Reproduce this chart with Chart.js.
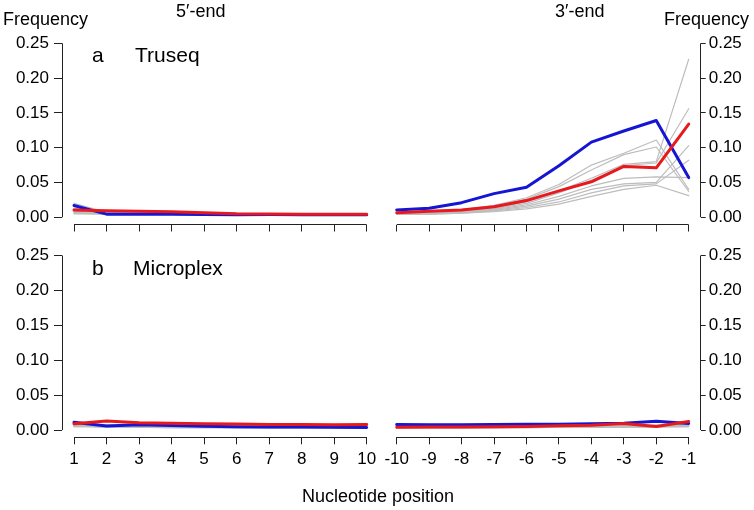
<!DOCTYPE html>
<html lang="en">
<head>
    <meta charset="UTF-8">
    <title>Nucleotide position frequency</title>
    <script src="https://cdn.jsdelivr.net/npm/chart.js"></script>
    <style>
        body {
            margin: 0;
            padding: 0;
            background: #fff;
            font-family: "Liberation Sans", Arial, sans-serif;
        }
        #wrap {
            position: relative;
            width: 754px;
            height: 510px;
            overflow: hidden;
        }
        #wrap canvas {
            position: absolute;
            left: 0;
            top: 0;
        }
        .lbl {
            position: absolute;
            white-space: nowrap;
            color: #000;
            line-height: 1;
        }
    </style>
</head>
<body>
<div id="wrap">
    <canvas id="p1" width="754" height="510"></canvas>
    <canvas id="p2" width="754" height="510"></canvas>
    <canvas id="p3" width="754" height="510"></canvas>
    <canvas id="p4" width="754" height="510"></canvas>

    <div class="lbl" style="left:3px; top:10px; font-size:18px;">Frequency</div>
    <div class="lbl" style="left:176px; top:2px; font-size:18px;">5′-end</div>
    <div class="lbl" style="left:555px; top:2px; font-size:18px;">3′-end</div>
    <div class="lbl" style="right:5px; top:10px; font-size:18px;">Frequency</div>
    <div class="lbl" style="left:92px; top:44px; font-size:21px;">a</div>
    <div class="lbl" style="left:135px; top:44px; font-size:21px;">Truseq</div>
    <div class="lbl" style="left:92px; top:257px; font-size:21px;">b</div>
    <div class="lbl" style="left:133px; top:257px; font-size:21px;">Microplex</div>
    <div class="lbl" style="left:302px; top:487px; font-size:18px;">Nucleotide position</div>
</div>

<script>
    // positions and ticks
    const pos5 = [1, 2, 3, 4, 5, 6, 7, 8, 9, 10];
    const pos3 = [-10, -9, -8, -7, -6, -5, -4, -3, -2, -1];
    const yTicks = [0, 0.05, 0.10, 0.15, 0.20, 0.25];

    // a  Truseq, 5'-end
    const truseq5Blue = [0.017, 0.0045, 0.0045, 0.0042, 0.004, 0.0035, 0.0038, 0.0036, 0.0035, 0.0035];
    const truseq5Red = [0.0105, 0.0095, 0.0088, 0.0078, 0.0065, 0.005, 0.0048, 0.0045, 0.0043, 0.0043];
    const truseq5Grey = [
        [0.020, 0.007, 0.006, 0.005, 0.005, 0.004, 0.004, 0.004, 0.004, 0.004],
        [0.013, 0.008, 0.007, 0.006, 0.005, 0.005, 0.004, 0.004, 0.004, 0.004],
        [0.009, 0.006, 0.005, 0.005, 0.004, 0.004, 0.004, 0.003, 0.003, 0.003],
        [0.008, 0.007, 0.006, 0.005, 0.005, 0.004, 0.004, 0.004, 0.003, 0.003],
        [0.007, 0.005, 0.005, 0.004, 0.004, 0.003, 0.003, 0.003, 0.003, 0.003],
        [0.006, 0.006, 0.005, 0.005, 0.004, 0.004, 0.004, 0.004, 0.004, 0.004],
        [0.006, 0.004, 0.004, 0.004, 0.003, 0.003, 0.003, 0.003, 0.003, 0.003],
        [0.005, 0.005, 0.004, 0.004, 0.004, 0.003, 0.003, 0.003, 0.003, 0.003]
    ];

    // a  Truseq, 3'-end
    const truseq3Blue = [0.0105, 0.013, 0.021, 0.034, 0.043, 0.074, 0.108, 0.124, 0.139, 0.057];
    const truseq3Red = [0.0065, 0.0085, 0.0105, 0.015, 0.024, 0.038, 0.051, 0.073, 0.071, 0.134];
    const truseq3Grey = [
        [0.006, 0.008, 0.011, 0.017, 0.028, 0.047, 0.075, 0.092, 0.111, 0.040],
        [0.005, 0.007, 0.010, 0.016, 0.026, 0.044, 0.068, 0.090, 0.101, 0.037],
        [0.005, 0.006, 0.009, 0.013, 0.022, 0.038, 0.056, 0.076, 0.080, 0.227],
        [0.005, 0.006, 0.008, 0.012, 0.020, 0.035, 0.053, 0.074, 0.078, 0.156],
        [0.005, 0.006, 0.008, 0.011, 0.018, 0.030, 0.045, 0.056, 0.058, 0.057],
        [0.004, 0.005, 0.007, 0.010, 0.016, 0.026, 0.040, 0.048, 0.050, 0.103],
        [0.004, 0.005, 0.006, 0.009, 0.014, 0.022, 0.035, 0.045, 0.048, 0.082],
        [0.004, 0.004, 0.006, 0.008, 0.012, 0.019, 0.030, 0.040, 0.046, 0.031]
    ];

    // b  Microplex, 5'-end
    const micro5Blue = [0.011, 0.0057, 0.0075, 0.0065, 0.0055, 0.0048, 0.0045, 0.0042, 0.004, 0.0038];
    const micro5Red = [0.009, 0.0128, 0.0105, 0.0098, 0.009, 0.0088, 0.008, 0.0078, 0.0075, 0.008];
    const micro5Grey = [
        [0.008, 0.006, 0.005, 0.005, 0.004, 0.004, 0.004, 0.004, 0.004, 0.004],
        [0.007, 0.007, 0.006, 0.005, 0.005, 0.005, 0.004, 0.004, 0.004, 0.004],
        [0.006, 0.005, 0.005, 0.004, 0.004, 0.004, 0.003, 0.003, 0.003, 0.003],
        [0.005, 0.006, 0.005, 0.005, 0.004, 0.004, 0.004, 0.004, 0.004, 0.004],
        [0.009, 0.007, 0.006, 0.006, 0.005, 0.005, 0.005, 0.005, 0.005, 0.005],
        [0.006, 0.004, 0.004, 0.004, 0.004, 0.003, 0.003, 0.003, 0.003, 0.003],
        [0.007, 0.005, 0.005, 0.005, 0.004, 0.004, 0.004, 0.004, 0.004, 0.004],
        [0.005, 0.004, 0.004, 0.003, 0.003, 0.003, 0.003, 0.003, 0.003, 0.003]
    ];

    // b  Microplex, 3'-end
    const micro3Blue = [0.008, 0.0075, 0.0075, 0.0078, 0.0082, 0.0082, 0.009, 0.0098, 0.0125, 0.0095];
    const micro3Red = [0.004, 0.0042, 0.0045, 0.0048, 0.005, 0.006, 0.007, 0.0092, 0.005, 0.0122];
    const micro3Grey = [
        [0.004, 0.004, 0.004, 0.004, 0.004, 0.005, 0.005, 0.005, 0.006, 0.007],
        [0.005, 0.005, 0.005, 0.005, 0.005, 0.005, 0.006, 0.006, 0.006, 0.008],
        [0.003, 0.003, 0.003, 0.003, 0.004, 0.004, 0.004, 0.005, 0.005, 0.006],
        [0.004, 0.004, 0.004, 0.005, 0.005, 0.005, 0.005, 0.006, 0.007, 0.009],
        [0.003, 0.003, 0.003, 0.004, 0.004, 0.004, 0.004, 0.004, 0.005, 0.005],
        [0.005, 0.004, 0.004, 0.004, 0.004, 0.005, 0.005, 0.005, 0.006, 0.010],
        [0.004, 0.004, 0.004, 0.004, 0.004, 0.004, 0.005, 0.005, 0.005, 0.006],
        [0.003, 0.003, 0.003, 0.003, 0.003, 0.004, 0.004, 0.004, 0.004, 0.005]
    ];

    Chart.defaults.font.family = '"Liberation Sans", Arial, sans-serif';
    Chart.defaults.font.size = 17;
    Chart.defaults.color = '#000';

    const axisColor = '#222';
    const W = 754, H = 510;

    // axis lines only span first..last tick, like base R plots
    const axisLines = {
        id: 'axisLines',
        afterDraw(chart) {
            const ctx = chart.ctx;
            const xs = chart.scales.x, ys = chart.scales.y;
            const a = chart.chartArea;
            const al = p => Math.round(p - 0.5) + 0.5;
            ctx.save();
            ctx.strokeStyle = axisColor;
            ctx.lineWidth = 1;
            ctx.beginPath();
            const yb = al(a.bottom);
            ctx.moveTo(xs.getPixelForValue(xs.ticks[0].value), yb);
            ctx.lineTo(xs.getPixelForValue(xs.ticks[xs.ticks.length - 1].value), yb);
            const xe = al(ys.position === 'left' ? a.left : a.right);
            ctx.moveTo(xe, ys.getPixelForValue(ys.ticks[0].value));
            ctx.lineTo(xe, ys.getPixelForValue(ys.ticks[ys.ticks.length - 1].value));
            ctx.stroke();
            ctx.restore();
        }
    };

    function series(xs, vals, color, width, order) {
        return {
            data: xs.map((x, i) => ({ x: x, y: vals[i] })),
            borderColor: color,
            borderWidth: width,
            pointRadius: 0,
            tension: 0,
            borderJoinStyle: 'round',
            borderCapStyle: 'round',
            order: order
        };
    }

    function makePanel(id, xs, blue, red, greys, box, side, showLabels) {
        const datasets = [series(xs, red, '#e8191c', 3, 0), series(xs, blue, '#1515d4', 3, 1)];
        greys.forEach(g => datasets.push(series(xs, g, '#bdbdbd', 1.2, 2)));

        const step = (box.right - box.left - 24) / (xs.length - 1 + 24 / 32.5);
        const unit = (box.right - box.left) / ((xs[xs.length - 1] - xs[0]) + 2 * 12 / 32.5);
        const xPad = 12 / unit;

        const yW = 50;
        const xH = showLabels ? 40 : 10;
        const padding = {
            top: box.top,
            bottom: H - box.bottom - xH,
            left: side === 'left' ? box.left - yW : box.left,
            right: side === 'left' ? W - box.right : W - box.right - yW
        };

        new Chart(document.getElementById(id), {
            type: 'line',
            data: { datasets: datasets },
            options: {
                responsive: false,
                animation: false,
                layout: { padding: padding },
                plugins: { legend: { display: false }, tooltip: { enabled: false } },
                scales: {
                    x: {
                        type: 'linear',
                        min: xs[0] - xPad,
                        max: xs[xs.length - 1] + xPad,
                        afterBuildTicks: s => { s.ticks = xs.map(v => ({ value: v })); },
                        afterFit: s => { s.height = xH; },
                        border: { display: false },
                        grid: { display: true, drawOnChartArea: false, drawTicks: true, tickLength: 7, color: axisColor },
                        ticks: {
                            display: showLabels,
                            padding: 5,
                            maxRotation: 0,
                            autoSkip: false,
                            callback: v => String(v)
                        }
                    },
                    y: {
                        position: side,
                        min: -0.0104,
                        max: 0.25,
                        afterBuildTicks: s => { s.ticks = yTicks.map(v => ({ value: v })); },
                        afterFit: s => { s.width = yW; },
                        border: { display: false },
                        grid: {
                            display: true, drawOnChartArea: false, drawTicks: true,
                            tickLength: side === 'left' ? 8 : 5, color: axisColor
                        },
                        ticks: {
                            padding: side === 'left' ? 5 : 3,
                            autoSkip: false,
                            callback: v => v.toFixed(2)
                        }
                    }
                }
            },
            plugins: [axisLines]
        });
    }

    const topBox = { top: 43.3, bottom: 224.5 };
    const botBox = { top: 255.5, bottom: 437.3 };

    makePanel('p1', pos5, truseq5Blue, truseq5Red, truseq5Grey,
        { left: 62, right: 378.7, top: topBox.top, bottom: topBox.bottom }, 'left', false);
    makePanel('p2', pos3, truseq3Blue, truseq3Red, truseq3Grey,
        { left: 384.7, right: 700.7, top: topBox.top, bottom: topBox.bottom }, 'right', false);
    makePanel('p3', pos5, micro5Blue, micro5Red, micro5Grey,
        { left: 62, right: 378.7, top: botBox.top, bottom: botBox.bottom }, 'left', true);
    makePanel('p4', pos3, micro3Blue, micro3Red, micro3Grey,
        { left: 384.7, right: 700.7, top: botBox.top, bottom: botBox.bottom }, 'right', true);
</script>
</body>
</html>
